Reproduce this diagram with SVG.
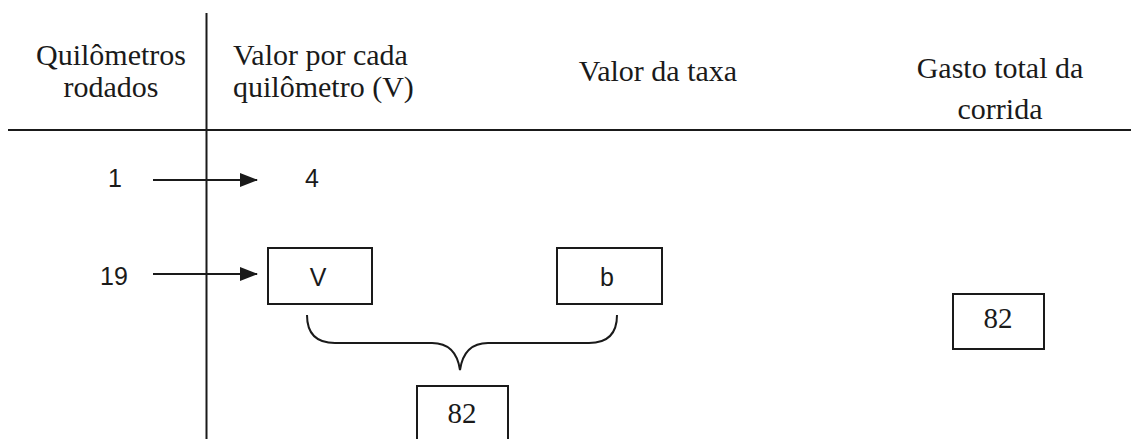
<svg xmlns="http://www.w3.org/2000/svg" width="1131" height="439" viewBox="0 0 1131 439">
<style>
.hdr{font-size:30px;fill:#1a1a1a}
.num{font-family:'Liberation Sans', Arial, sans-serif;font-size:25px;fill:#1a1a1a}
.ser{font-size:29px;fill:#1a1a1a}
.box{fill:#fff;stroke:#1a1a1a;stroke-width:2}
.ln{stroke:#1a1a1a;stroke-width:2;fill:none}
</style>
<defs>
<marker id="ah" markerWidth="9" markerHeight="7" refX="8.5" refY="3.5" orient="auto" markerUnits="strokeWidth">
<path d="M0,0 L9,3.5 L0,7 Z" fill="#1a1a1a"/>
</marker>
</defs>
<rect width="1131" height="439" fill="#fff"/>
<g id="table">
<line class="ln" x1="206.5" y1="13" x2="206.5" y2="439"/>
<line class="ln" x1="8" y1="130" x2="1131" y2="130"/>
</g>
<g font-family="Liberation Serif, DejaVu Serif, serif">
<g id="header-km">
<text class="hdr" x="111" y="65" text-anchor="middle">Quilômetros</text>
<text class="hdr" x="111" y="97" text-anchor="middle">rodados</text>
</g>
<g id="header-valor">
<text class="hdr" x="233" y="65">Valor por cada</text>
<text class="hdr" x="233" y="97">quilômetro (V)</text>
</g>
<g id="header-taxa">
<text class="hdr" x="658" y="81" text-anchor="middle">Valor da taxa</text>
</g>
<g id="header-gasto">
<text class="hdr" x="1000" y="78" text-anchor="middle">Gasto total da</text>
<text class="hdr" x="1000" y="119" text-anchor="middle">corrida</text>
</g>
</g>
<g id="n1"><text class="num" x="115" y="187" text-anchor="middle">1</text></g>
<g id="n4"><text class="num" x="312" y="187" text-anchor="middle">4</text></g>
<g id="n19"><text class="num" x="114" y="285" text-anchor="middle">19</text></g>
<g id="boxV">
<rect class="box" x="268" y="248" width="104" height="56"/>
<text class="num" x="318" y="286" text-anchor="middle">V</text>
</g>
<g id="boxB">
<rect class="box" x="557" y="248" width="105" height="56"/>
<text class="num" x="607" y="286" text-anchor="middle">b</text>
</g>
<g id="box82a">
<rect class="box" x="417" y="386" width="91" height="64"/>
<text class="ser" x="462" y="423" text-anchor="middle" font-family="Liberation Serif, DejaVu Serif, serif">82</text>
</g>
<g id="box82b">
<rect class="box" x="953" y="294" width="91" height="55"/>
<text class="ser" x="998" y="328" text-anchor="middle" font-family="Liberation Serif, DejaVu Serif, serif">82</text>
</g>
<g id="connectors">
<line class="ln" x1="153" y1="180" x2="257" y2="180" marker-end="url(#ah)"/>
<line class="ln" x1="153" y1="274" x2="257" y2="274" marker-end="url(#ah)"/>
<path class="ln" d="M307,315 Q307,343 335,343 L432,343 Q456,343 460,370 Q464,343 488,343 L589,343 Q617,343 617,315"/>
</g>
</svg>
